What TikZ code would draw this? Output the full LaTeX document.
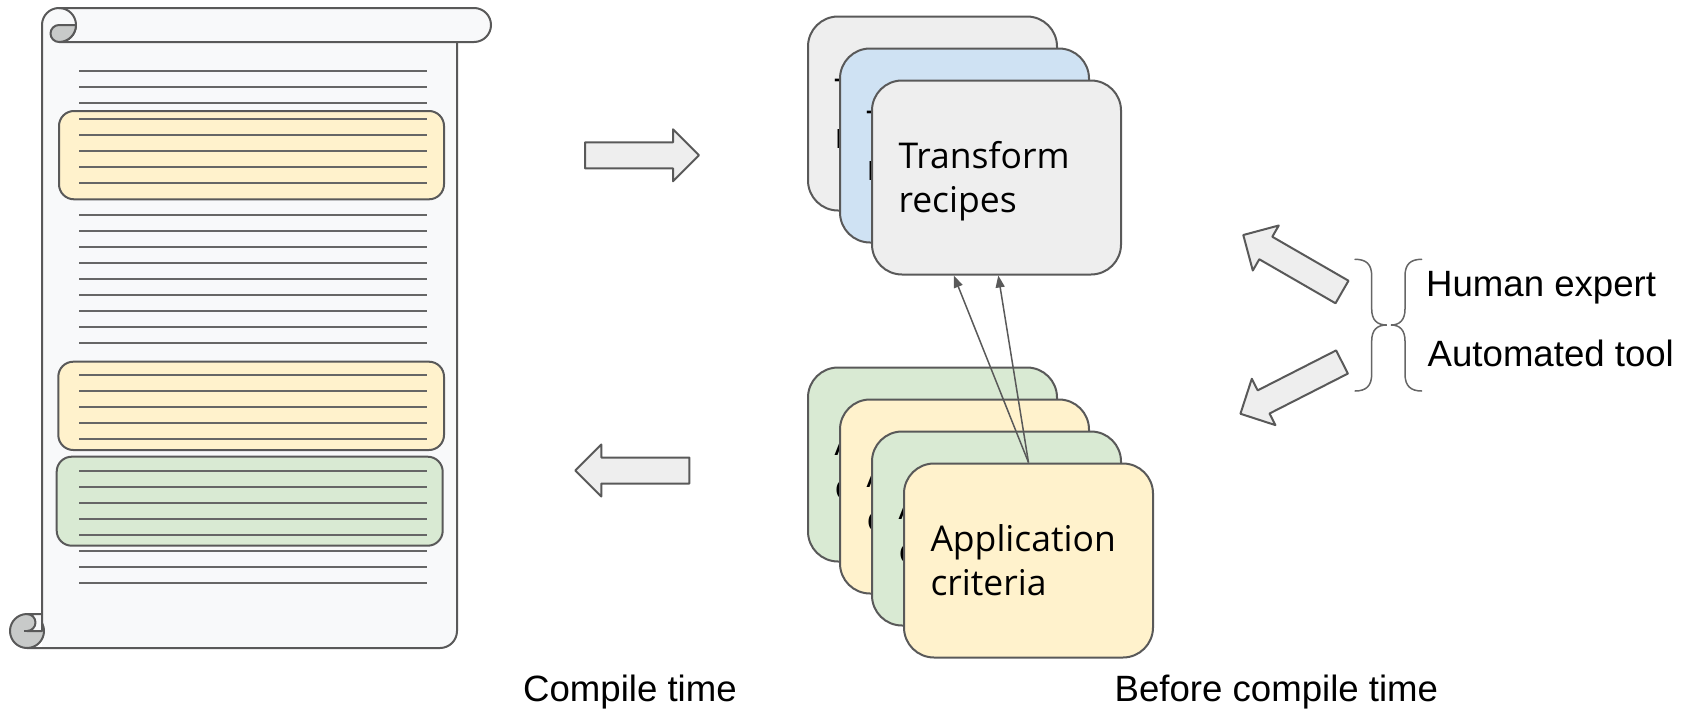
\documentclass[tikz,border=0pt]{standalone}
\usepackage{fontspec}
\setmainfont{Liberation Sans}
\newfontfamily\cardfont{Open Sans}
\usetikzlibrary{arrows.meta,calc}

\definecolor{edge}{HTML}{595959}
\definecolor{rulegrey}{HTML}{666666}
\definecolor{paper}{HTML}{F8F9FA}
\definecolor{curlgrey}{HTML}{C8CAC9}
\definecolor{cardgrey}{HTML}{EEEEEE}
\definecolor{cardblue}{HTML}{CFE2F3}
\definecolor{cardyellow}{HTML}{FFF2CC}
\definecolor{cardgreen}{HTML}{D9EAD3}

% extra head room above the first line of a recipe card
\newcommand\headroom{\rule{0pt}{35pt}}

\tikzset{
  outline/.style={draw=edge, line width=2pt, line join=round},
  card/.style={outline, rounded corners=30pt, minimum width=249pt,
    minimum height=194pt, text width=196pt, inner xsep=26.5pt, align=left,
    font=\cardfont\fontsize{35.5}{44}\selectfont},
  lbl/.style={font=\fontsize{36.6}{43}\selectfont, inner sep=0pt, anchor=base west},
  link/.style={draw=edge, line width=1.5pt, -{Triangle[length=12pt,width=9pt]}},
  docrule/.style={draw=rulegrey, line width=1.6pt},
  hilite/.style={outline, rounded corners=15pt},
  bracestroke/.style={draw=rulegrey, line width=1.5pt, line cap=round},
  blockarrow/.pic={
    \filldraw[outline, fill=cardgrey]
      (0,-13) -- (88,-13) -- (88,-26) -- (114,0) -- (88,26) -- (88,13) -- (0,13) -- cycle;
  }
}

\begin{document}
\begin{tikzpicture}[x=1pt,y=1pt]
\useasboundingbox (0,0) rectangle (1682,-712);

% ---- scroll: sheet body ----
\fill[paper] (42,-25) -- (42,-648) -- (440,-648)
  arc[start angle=-90,end angle=0,radius=17] -- (457,-25) -- cycle;

% highlighted blocks of the document
\filldraw[hilite, fill=cardyellow] (59,-111) rectangle (444,-199.3);
\filldraw[hilite, fill=cardyellow] (58.3,-361.7) rectangle (444,-450);
\filldraw[hilite, fill=cardgreen] (56.7,-456.7) rectangle (442.7,-545.7);

% text lines
\foreach \k in {0,...,32}{
  \ifnum\k=8\else\ifnum\k=18\else\ifnum\k=24\else
    \draw[docrule] (79,{-(71+16*\k)}) -- (427,{-(71+16*\k)});
  \fi\fi\fi
}

% top roll
\fill[paper] (42,-42) -- (42,-25) arc[start angle=180,end angle=90,radius=17]
  -- (474,-8) arc[start angle=90,end angle=-90,radius=17] -- cycle;
\draw[outline] (42,-614) -- (42,-25) arc[start angle=180,end angle=90,radius=17]
  -- (474,-8) arc[start angle=90,end angle=-90,radius=17] -- (59,-42);
\draw[outline] (59,-8) arc[start angle=90,end angle=-90,radius=17];
\filldraw[outline, fill=curlgrey] (76,-25) -- (59,-25)
  arc[start angle=90,end angle=270,radius=8.5]
  arc[start angle=-90,end angle=0,radius=17] -- cycle;

% right edge and bottom
\draw[outline] (457,-42) -- (457,-631) arc[start angle=0,end angle=-90,radius=17] -- (27,-648);

% bottom curl
\filldraw[outline, fill=curlgrey] (27,-631) circle[radius=17];
\filldraw[outline, fill=paper] (27,-614) -- (42,-614) -- (42,-631) -- (27,-631)
  arc[start angle=-90,end angle=90,radius=8.5] -- cycle;
\draw[outline] (24,-631) -- (27,-631);

% ---- block arrows ----
\pic at (585,-155.3) {blockarrow};
\pic[rotate=180] at (689.3,-470.5) {blockarrow};
\pic[rotate=150] at (1342,-292) {blockarrow};
\pic[rotate=207] at (1342,-362) {blockarrow};

% ---- transform recipe cards ----
\node[card, fill=cardgrey] (tr1) at (932.5,-113.5) {\headroom Transform\\recipes};
\node[card, fill=cardblue] (tr2) at (964.5,-145.5) {\headroom Transform\\recipes};
\node[card, fill=cardgrey] (tr3) at (996.5,-177.5) {\headroom Transform\\recipes};

% ---- application criteria cards ----
\node[card, fill=cardgreen]  (ac1) at (932.5,-464.5) {Application\\criteria};
\node[card, fill=cardyellow] (ac2) at (964.5,-496.5) {Application\\criteria};
\node[card, fill=cardgreen]  (ac3) at (996.5,-528.5) {Application\\criteria};
\node[card, fill=cardyellow] (ac4) at (1028.5,-560.5) {Application\\criteria};

% criteria point to recipes
\draw[link] (ac4.north) -- ($(tr3.south west)!0.33!(tr3.south east)$);
\draw[link] (ac4.north) -- ($(tr3.south west)!0.507!(tr3.south east)$);

% ---- braces ----
\draw[bracestroke] (1355,-259.3) .. controls (1366,-259.3) and (1371.7,-264) .. (1371.7,-276)
  -- (1371.7,-309) .. controls (1371.7,-320) and (1377,-325) .. (1386.7,-325)
  .. controls (1377,-325) and (1371.7,-330) .. (1371.7,-341)
  -- (1371.7,-374) .. controls (1371.7,-386) and (1366,-391) .. (1355,-391);
\draw[bracestroke] (1421.7,-259.3) .. controls (1410.7,-259.3) and (1405,-264) .. (1405,-276)
  -- (1405,-309) .. controls (1405,-320) and (1399.7,-325) .. (1391,-325)
  .. controls (1399.7,-325) and (1405,-330) .. (1405,-341)
  -- (1405,-374) .. controls (1405,-386) and (1410.7,-391) .. (1421.7,-391);

% ---- labels ----
\node[lbl] (human) at (1426,-296) {Human expert};
\node[lbl] (tool) at (1427.5,-366.7) {Automated tool};
\node[lbl] (ct) at (523,-701.7) {Compile time};
\node[lbl] (bct) at (1114.5,-701.7) {Before compile time};
\end{tikzpicture}
\end{document}
